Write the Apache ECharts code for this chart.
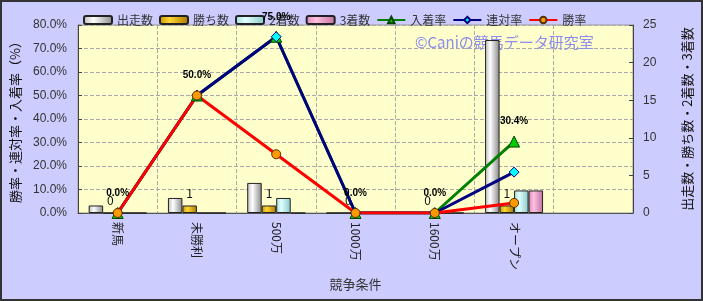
<!DOCTYPE html>
<html><head><meta charset="utf-8">
<script src="https://cdn.jsdelivr.net/npm/echarts@6/dist/echarts.min.js"></script>
<style>html,body{margin:0;padding:0;background:#ccccff;}#c{width:703px;height:301px;}</style>
</head><body><div id="c"></div>
<script>
var categories = ['新馬','未勝利','500万','1000万','1600万','オープン',''];
var starts = [1, 2, 4, 0, 0, 23, null];
var wins = [0, 1, 1, 0, 0, 1, null];
var seconds = [0, 0, 2, 0, 0, 3, null];
var thirds = [0, 0, 0, 0, 0, 3, null];
var placeRate = [0, 50, 75, 0, 0, 30.4, null];
var quinellaRate = [0, 50, 75, 0, 0, 17.4, null];
var winRate = [0, 50, 25, 0, 0, 4.3, null];
var leftTicks = [0, 80, 10];
var rightTicks = [0, 25, 5];

var FONT = '"Noto Sans CJK JP", sans-serif';
function grad(a, b, c) {
  return new echarts.graphic.LinearGradient(0, 0, 1, 0, [
    {offset: 0, color: a}, {offset: 0.35, color: b}, {offset: 1, color: c}]);
}
var chart = echarts.init(document.getElementById('c'));
function barSeries(name, data, colors, label) {
  return {
    name: name, type: 'bar', yAxisIndex: 1, data: data,
    barWidth: 14.5, barGap: '0%',
    itemStyle: {color: grad(colors[0], colors[1], colors[2]), borderColor: '#222', borderWidth: 1},
    label: label ? {show: true, position: 'top', distance: 6, color: '#111', fontSize: 12, fontFamily: FONT} : {show: false},
    z: 4
  };
}
function lineSeries(name, data, color, symbol, mColor, mBorder, size, label) {
  return {
    name: name, type: 'line', yAxisIndex: 0, data: data,
    lineStyle: {color: color, width: 3},
    itemStyle: {color: mColor, borderColor: mBorder, borderWidth: 1},
    symbol: symbol, symbolSize: size, showSymbol: true,
    label: label ? {show: true, position: 'top', distance: 9, color: '#000', fontSize: 10, fontWeight: 'bold', fontFamily: 'Arial, sans-serif',
      formatter: function (p) { return p.value.toFixed(1) + '%'; }} : {show: false},
    z: 5
  };
}
chart.setOption({
  backgroundColor: '#ccccff',
  animation: false,
  textStyle: {fontFamily: FONT},
  title: {text: '©Caniの競馬データ研究室', left: 415, top: 35, padding: 0, z: 1,
    textStyle: {color: '#8c8cee', fontSize: 15, fontWeight: 'normal', fontFamily: FONT}},
  legend: {
    left: 78, top: 9, itemWidth: 28, itemHeight: 8, itemGap: 6,
    textStyle: {fontSize: 12, color: '#333', fontFamily: FONT},
    data: [
      {name: '出走数', icon: 'roundRect'}, {name: '勝ち数', icon: 'roundRect'},
      {name: '2着数', icon: 'roundRect'}, {name: '3着数', icon: 'roundRect'},
      '入着率', '連対率', '勝率']
  },
  grid: {left: 78, right: 70, top: 25, bottom: 88, containLabel: false, outerBoundsMode: 'none',
    show: true, backgroundColor: '#ffffcc', borderColor: '#999', borderWidth: 1, z: 0},
  xAxis: {
    type: 'category', data: categories, name: '競争条件', nameLocation: 'middle', nameGap: 64,
    nameTextStyle: {fontSize: 13, color: '#333', fontFamily: FONT},
    axisLine: {lineStyle: {color: '#555'}}, axisTick: {show: false},
    axisLabel: {rotate: -90, fontSize: 12, color: '#222', margin: 9, fontFamily: FONT},
    splitLine: {show: true, lineStyle: {color: '#aaa', type: 'dashed'}}
  },
  yAxis: [{
    type: 'value', min: leftTicks[0], max: leftTicks[1], interval: leftTicks[2],
    name: '勝率・連対率・入着率（%）', nameLocation: 'middle', nameGap: 56, nameRotate: 90,
    nameTextStyle: {fontSize: 13, color: '#111', fontFamily: FONT},
    axisLine: {show: true, lineStyle: {color: '#444'}}, axisTick: {show: true, inside: true, length: 4},
    axisLabel: {fontSize: 12, color: '#333', margin: 11, fontFamily: 'Arial, sans-serif', formatter: function (v) { return v.toFixed(1) + '%'; }},
    splitLine: {show: true, lineStyle: {color: '#aaa', type: 'dashed'}}
  }, {
    type: 'value', min: rightTicks[0], max: rightTicks[1], interval: rightTicks[2],
    name: '出走数・勝ち数・2着数・3着数', nameLocation: 'middle', nameGap: 48, nameRotate: 90,
    nameTextStyle: {fontSize: 13, color: '#111', fontFamily: FONT},
    axisLine: {show: true, lineStyle: {color: '#444'}}, axisTick: {show: true, inside: true, length: 4},
    axisLabel: {fontSize: 12, color: '#333', margin: 10, fontFamily: 'Arial, sans-serif'},
    splitLine: {show: false}
  }],
  graphic: [
    {type: 'rect', shape: {x: 1, y: 1, width: 701, height: 299}, style: {fill: 'none', stroke: '#333', lineWidth: 2}, silent: true, z: 100}
  ],
  series: [
    barSeries('出走数', starts, ['#b8b8b8', '#ffffff', '#888888'], false),
    barSeries('勝ち数', wins, ['#c89600', '#ffd633', '#a87800'], true),
    barSeries('2着数', seconds, ['#a0dede', '#e0ffff', '#88c8c8'], false),
    barSeries('3着数', thirds, ['#d888b8', '#ffc0e0', '#c070a0'], false),
    lineSeries('入着率', placeRate, '#008000', 'triangle', '#00cc00', '#004400', 11, true),
    lineSeries('連対率', quinellaRate, '#000080', 'diamond', '#00ffff', '#000080', 10, false),
    lineSeries('勝率', winRate, '#ff0000', 'circle', '#ff9900', '#553300', 9, false)
  ]
});
</script></body></html>
